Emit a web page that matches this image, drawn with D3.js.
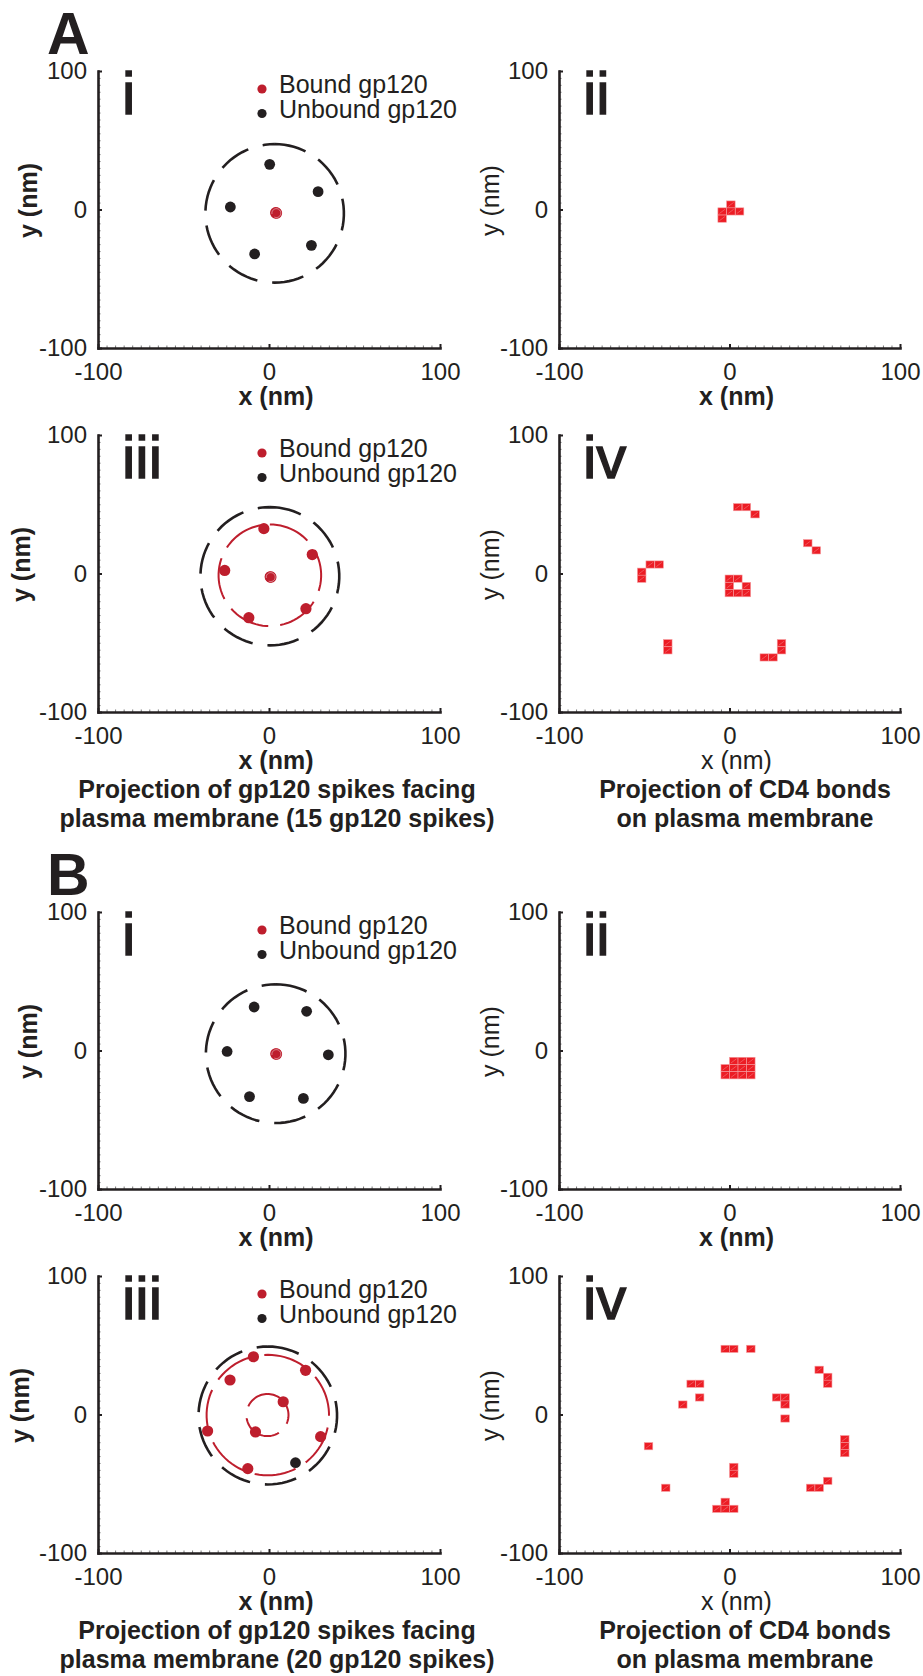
<!DOCTYPE html>
<html>
<head>
<meta charset="utf-8">
<script src="https://cdn.jsdelivr.net/npm/d3@7"></script>
<style>
body{margin:0;background:#fff;}
svg text{font-family:"Liberation Sans",Arial,Helvetica,sans-serif;fill:#231f20;}
</style>
</head>
<body>
<script>
var W=923, H=1676;

// ---- data (nm) ----
var axisTicks=[-100,0,100];
var minorTicks=d3.range(-100,101,5);
var legendLabels=["Bound gp120","Unbound gp120"];
var captionSpikesA=["Projection of gp120 spikes facing","plasma membrane (15 gp120 spikes)"];
var captionSpikesB=["Projection of gp120 spikes facing","plasma membrane (20 gp120 spikes)"];
var captionBonds=["Projection of CD4 bonds","on plasma membrane"];

// A i
var aiBound=[[3.9,-2.3]];
var aiUnbound=[[0.4,32.6],[28.7,12.9],[-22.6,1.8],[24.8,-25.9],[-8.4,-32.1]];
var aiRings=[{cx:3.3,cy:-2.8,rx:40.5,ry:50,bound:false},{cx:4.3,cy:-2.6,rx:2.6,ry:3.2,bound:true}];
// A ii
var aiiCells=[[0.8,3.6],[-4.3,-1.4],[0.8,-1.4],[5.9,-1.4],[-4.3,-6.6]];
// A iii
var aiiiBound=[[-3.0,32.4],[25.3,13.7],[-25.9,2.2],[0.7,-2.4],[21.6,-25.4],[-11.8,-31.9]];
var aiiiUnbound=[];
var aiiiRings=[{cx:0.5,cy:-2.0,rx:40.6,ry:49.9,bound:false},{cx:0.5,cy:-1.3,rx:30,ry:36.7,bound:true},{cx:1.0,cy:-2.6,rx:2.6,ry:3.2,bound:true}];
// A iv
var aivCells=[[4.8,47.9],[9.9,47.9],[15.0,42.7],
  [45.9,21.9],[50.9,16.7],
  [-46.5,6.5],[-41.3,6.5],[-51.5,1.3],[-51.5,-3.8],
  [-0.1,-3.7],[4.9,-3.7],[-0.1,-9.0],[9.9,-9.0],[-0.1,-14.2],[4.9,-14.2],[9.9,-14.2],
  [-36.2,-50.3],[-36.2,-55.5],
  [30.5,-50.3],[30.5,-55.5],[20.4,-60.6],[25.5,-60.6]];
// B i
var biBound=[[4.0,-2.4]];
var biUnbound=[[-8.7,31.4],[22.0,28.3],[-24.5,-0.7],[34.7,-3.1],[-11.4,-33.3],[20.1,-34.6]];
var biRings=[{cx:3.9,cy:-2.3,rx:40.8,ry:50.1,bound:false},{cx:4.3,cy:-2.6,rx:2.6,ry:3.2,bound:true}];
// B ii
var biiCells=[[2.5,-7.5],[7.5,-7.5],[12.5,-7.5],
  [-2.5,-12.7],[2.5,-12.7],[7.5,-12.7],[12.5,-12.7],
  [-2.5,-17.9],[2.5,-17.9],[7.5,-17.9],[12.5,-17.9]];
// B iii
var biiiBound=[[-9.1,41.7],[21.4,31.9],[-22.8,24.9],[8.3,9.2],[-35.9,-11.9],[-7.9,-12.6],[30.2,-16.0],[-12.4,-39.1]];
var biiiUnbound=[[15.5,-34.8]];
var biiiRings=[{cx:-0.7,cy:-0.7,rx:40.5,ry:49.8,bound:false},{cx:-0.7,cy:-0.4,rx:35.8,ry:43.5,bound:true},{cx:-0.9,cy:-0.4,rx:12.3,ry:15.2,bound:true}];
// B iv
var bivCells=[[-2.5,47.4],[2.5,47.4],[12.5,47.4],
  [52.6,32.3],[57.6,27.2],[57.6,22.2],
  [-22.5,22.2],[-17.5,22.2],[-17.5,12.3],[-27.4,7.2],
  [27.6,12.3],[32.6,12.3],[32.6,7.2],[32.6,-2.9],
  [-47.5,-22.9],
  [67.6,-17.8],[67.6,-22.9],[67.6,-27.9],
  [2.5,-37.8],[2.5,-42.8],
  [-37.4,-52.9],
  [57.6,-47.9],[47.6,-52.9],[52.6,-52.9],
  [-2.5,-63.0],[-7.4,-68.1],[-2.5,-68.1],[2.5,-68.1]];

// ---- layout ----
var cols=[{x0:98,x1:440},{x0:559,x1:900}];
var rows=[71,435,912,1276];
var ph=277;
var red="#be1e2d", cellRed="#ec1c24", ink="#231f20";

var panels=[
  {col:0,row:0,num:"i",bound:aiBound,unbound:aiUnbound,rings:aiRings,yBold:true,xBold:true,yOff:-61},
  {col:1,row:0,num:"ii",cells:aiiCells,yBold:false,xBold:true,yOff:-60},
  {col:0,row:1,num:"iii",bound:aiiiBound,unbound:aiiiUnbound,rings:aiiiRings,yBold:true,xBold:true,yOff:-68,caption:captionSpikesA},
  {col:1,row:1,num:"iv",cells:aivCells,yBold:false,xBold:false,yOff:-60,caption:captionBonds},
  {col:0,row:2,num:"i",bound:biBound,unbound:biUnbound,rings:biRings,yBold:true,xBold:true,yOff:-61},
  {col:1,row:2,num:"ii",cells:biiCells,yBold:false,xBold:true,yOff:-60},
  {col:0,row:3,num:"iii",bound:biiiBound,unbound:biiiUnbound,rings:biiiRings,yBold:true,xBold:true,yOff:-69,caption:captionSpikesB},
  {col:1,row:3,num:"iv",cells:bivCells,yBold:false,xBold:false,yOff:-60,caption:captionBonds}
];

var svg=d3.select("body").append("svg")
  .attr("width",W).attr("height",H)
  .attr("viewBox","0 0 "+W+" "+H);

svg.append("text").attr("x",47).attr("y",53.5).attr("font-size",59).attr("font-weight","bold").text("A");
svg.append("text").attr("x",47).attr("y",895).attr("font-size",59).attr("font-weight","bold").text("B");

function ellipsePath(x,y,r,n){
  var pts=d3.range(n+1).map(function(i){
    var a=Math.PI/2 - i/n*2*Math.PI;
    return [x(r.cx+r.rx*Math.cos(a)), y(r.cy+r.ry*Math.sin(a))];
  });
  return d3.line()(pts);
}

function drawPanel(p){
  var c=cols[p.col], y0=rows[p.row], y1=y0+ph;
  var x=d3.scaleLinear().domain([-100,100]).range([c.x0,c.x1]);
  var y=d3.scaleLinear().domain([-100,100]).range([y1,y0]);
  var g=svg.append("g");

  // minor ticks
  var mx=g.append("g").attr("transform","translate(0,"+y1+")")
    .call(d3.axisBottom(x).tickValues(minorTicks).tickSize(-2.5).tickSizeOuter(0).tickFormat(""));
  var my=g.append("g").attr("transform","translate("+c.x0+",0)")
    .call(d3.axisLeft(y).tickValues(minorTicks).tickSize(-2.5).tickSizeOuter(0).tickFormat(""));
  [mx,my].forEach(function(a){
    a.select(".domain").remove();
    a.selectAll("line").attr("stroke","#555").attr("stroke-width",0.8);
  });

  // major axes
  var xa=g.append("g").attr("transform","translate(0,"+y1+")")
    .call(d3.axisBottom(x).tickValues(axisTicks).tickSize(-4).tickSizeOuter(0).tickPadding(15)
      .tickFormat(function(d){return String(d);}));
  var ya=g.append("g").attr("transform","translate("+c.x0+",0)")
    .call(d3.axisLeft(y).tickValues(axisTicks).tickSize(-4).tickSizeOuter(0).tickPadding(11)
      .tickFormat(function(d){return String(d);}));
  [xa,ya].forEach(function(a){
    a.attr("font-size",null).attr("font-family",null);
    a.select(".domain").attr("stroke",ink).attr("stroke-width",2.6).attr("stroke-linecap","square");
    a.selectAll(".tick line").attr("stroke",ink).attr("stroke-width",2);
    a.selectAll(".tick text").attr("font-size",24).attr("fill",ink);
  });

  // axis labels
  g.append("text")
    .attr("x",(c.x0+c.x1)/2+7).attr("y",y1+57)
    .attr("text-anchor","middle").attr("font-size",25)
    .attr("font-weight",p.xBold?"bold":"normal")
    .text("x (nm)");
  g.append("text")
    .attr("transform","translate("+(c.x0+p.yOff)+","+((y0+y1)/2-9)+") rotate(-90)")
    .attr("text-anchor","middle").attr("font-size",25)
    .attr("font-weight",p.yBold?"bold":"normal")
    .text("y (nm)");

  // roman numeral
  g.append("text").attr("x",c.x0+24).attr("y",y0+43).attr("font-size",60)
    .attr("stroke",ink).attr("stroke-width",1.4).text(p.num);

  if(p.cells){
    var cg=g.append("g");
    cg.selectAll("rect").data(p.cells).enter().append("rect")
      .attr("x",function(d){return x(d[0]-2.5);})
      .attr("y",function(d){return y(d[1]+2.6);})
      .attr("width",function(d){return x(d[0]+2.5)-x(d[0]-2.5);})
      .attr("height",function(d){return y(d[1]-2.6)-y(d[1]+2.6);})
      .attr("fill",cellRed).attr("stroke","#f59a9d").attr("stroke-width",0.6);
    cg.selectAll("line").data(p.cells).enter().append("line")
      .attr("x1",function(d){return x(d[0]-2.5)+1.5;})
      .attr("y1",function(d){return y(d[1]-2.6)-1.5;})
      .attr("x2",function(d){return x(d[0]+2.5)-1.5;})
      .attr("y2",function(d){return y(d[1]+2.6)+1.5;})
      .attr("stroke","#f37a7f").attr("stroke-width",0.6);
  } else {
    // rings
    p.rings.forEach(function(r){
      var small=r.rx<5;
      g.append("path").attr("d",ellipsePath(x,y,r,90))
        .attr("fill","none")
        .attr("stroke",r.bound?red:ink)
        .attr("stroke-width",r.bound?(small?2.6:2):2.6)
        .attr("stroke-dasharray",small?null:(r.bound?"42,12":"32,15"));
    });
    g.selectAll(".ub").data(p.unbound).enter().append("circle")
      .attr("cx",function(d){return x(d[0]);}).attr("cy",function(d){return y(d[1]);})
      .attr("r",5.4).attr("fill",ink);
    g.selectAll(".bd").data(p.bound).enter().append("circle")
      .attr("cx",function(d){return x(d[0]);}).attr("cy",function(d){return y(d[1]);})
      .attr("r",5.6).attr("fill",red);
    // thin highlight of the tiny spiral rings
    p.rings.filter(function(r){return r.rx<5;}).forEach(function(r){
      g.append("path").attr("d",ellipsePath(x,y,r,40))
        .attr("fill","none").attr("stroke","#fff").attr("stroke-opacity",0.75)
        .attr("stroke-width",0.6).attr("stroke-dasharray","16,4");
    });

    // legend
    var lg=g.append("g");
    legendLabels.forEach(function(t,i){
      lg.append("circle").attr("cx",c.x0+164).attr("cy",y0+18+i*24.5)
        .attr("r",4.6).attr("fill",i===0?red:ink);
      lg.append("text").attr("x",c.x0+181).attr("y",y0+22+i*24.5)
        .attr("font-size",25).text(t);
    });
  }

  if(p.caption){
    p.caption.forEach(function(t,i){
      g.append("text").attr("x",p.col===0?277:745).attr("y",y1+86+i*29)
        .attr("text-anchor","middle").attr("font-size",25).attr("font-weight","bold")
        .text(t);
    });
  }
}

panels.forEach(drawPanel);
</script>
</body>
</html>
